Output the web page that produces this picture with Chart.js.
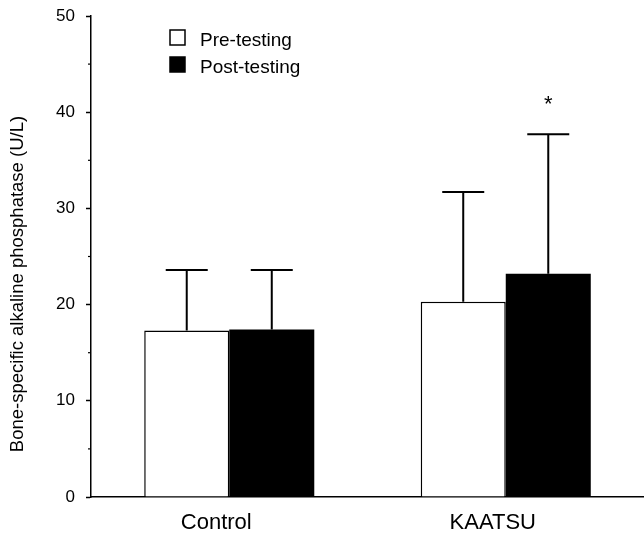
<!DOCTYPE html>
<html>
<head>
<meta charset="utf-8">
<script src="https://cdn.jsdelivr.net/npm/chart.js@4"></script>
<style>
  html, body { margin: 0; padding: 0; background: #fff; }
  #wrap { width: 644px; height: 533px; }
</style>
</head>
<body>
<div id="wrap"><canvas id="myChart"></canvas></div>
<script>
// data
const categories = ['Control', 'KAATSU'];
const preValues = [17.3, 20.3];
const postValues = [17.4, 23.2];
const preSD = [6.3, 11.4];
const postSD = [6.2, 14.5];
const yTicks = [0, 10, 20, 30, 40, 50];
const minorTicks = [5, 15, 25, 35, 45];
const starred = [[1, 1]]; // [dataset, index]

const FONT = '"Liberation Sans", Arial, Helvetica, sans-serif';

const errorBars = {
  id: 'errorBars',
  afterDatasetsDraw(chart) {
    const ctx = chart.ctx;
    const y = chart.scales.y;
    const sds = [preSD, postSD];
    ctx.save();
    ctx.strokeStyle = '#000';
    ctx.lineWidth = 2;
    chart.data.datasets.forEach((ds, i) => {
      const meta = chart.getDatasetMeta(i);
      meta.data.forEach((bar, j) => {
        const top = y.getPixelForValue(ds.data[j] + sds[i][j]);
        ctx.beginPath();
        ctx.moveTo(bar.x, bar.y);
        ctx.lineTo(bar.x, top);
        ctx.moveTo(bar.x - 21, top);
        ctx.lineTo(bar.x + 21, top);
        ctx.stroke();
      });
    });
    ctx.fillStyle = '#000';
    ctx.font = '22px ' + FONT;
    ctx.textAlign = 'center';
    ctx.textBaseline = 'middle';
    starred.forEach(([i, j]) => {
      const bar = chart.getDatasetMeta(i).data[j];
      const top = y.getPixelForValue(chart.data.datasets[i].data[j] + sds[i][j]);
      ctx.fillText('*', bar.x, top - 29);
    });
    ctx.restore();
  }
};

const extras = {
  id: 'extras',
  afterDraw(chart) {
    const ctx = chart.ctx;
    const y = chart.scales.y;
    const left = chart.chartArea.left;
    ctx.save();
    // minor ticks
    ctx.strokeStyle = '#000';
    ctx.lineWidth = 1.2;
    minorTicks.forEach(v => {
      const py = y.getPixelForValue(v);
      ctx.beginPath();
      ctx.moveTo(left - 3, py);
      ctx.lineTo(left, py);
      ctx.stroke();
    });
    // y title
    ctx.fillStyle = '#000';
    ctx.font = '18.5px ' + FONT;
    ctx.textAlign = 'center';
    ctx.textBaseline = 'middle';
    ctx.translate(18, 284);
    ctx.rotate(-Math.PI / 2);
    ctx.fillText('Bone-specific alkaline phosphatase (U/L)', 0, 0);
    ctx.restore();

    // legend
    ctx.save();
    ctx.font = '19px ' + FONT;
    ctx.textBaseline = 'middle';
    ctx.textAlign = 'left';
    chart.data.datasets.forEach((ds, i) => {
      const by = 30 + i * 27;
      ctx.fillStyle = ds.backgroundColor;
      ctx.fillRect(170, by, 15, 15);
      ctx.strokeStyle = '#000';
      ctx.lineWidth = 1.5;
      ctx.strokeRect(170, by, 15, 15);
      ctx.fillStyle = '#000';
      ctx.fillText(ds.label, 200, by + 11);
    });
    ctx.restore();
  }
};

const ctx = document.getElementById('myChart').getContext('2d');
const myChart = new Chart(ctx, {
  type: 'bar',
  data: {
    labels: categories,
    datasets: [{
      label: 'Pre-testing',
      data: preValues,
      backgroundColor: '#ffffff',
      borderColor: '#000000',
      borderWidth: 1.5
    }, {
      label: 'Post-testing',
      data: postValues,
      backgroundColor: '#000000',
      borderColor: '#000000',
      borderWidth: 0
    }]
  },
  options: {
    responsive: true,
    maintainAspectRatio: false,
    animation: false,
    events: [],
    layout: { padding: { top: 16, right: 0, left: 0, bottom: 0 } },
    datasets: { bar: { categoryPercentage: 0.615, barPercentage: 1.0 } },
    plugins: { legend: { display: false }, tooltip: { enabled: false } },
    scales: {
      x: {
        grid: { display: false },
        border: { color: '#000', width: 1.5 },
        ticks: {
          color: '#000',
          font: { family: FONT, size: 22 },
          padding: 5,
          labelOffset: -13
        },
        afterFit: s => { s.height = 36; s.paddingLeft = 0; s.paddingRight = 0; }
      },
      y: {
        min: 0,
        max: 50,
        afterBuildTicks: s => { s.ticks = yTicks.map(v => ({ value: v })); },
        grid: { drawOnChartArea: false, color: '#000', tickLength: 5, tickWidth: 1.5 },
        border: { color: '#000', width: 1.5 },
        ticks: {
          color: '#000',
          font: { family: FONT, size: 17 },
          padding: 11
        },
        afterFit: s => { s.width = 91; s.paddingTop = 0; s.paddingBottom = 0; }
      }
    }
  },
  plugins: [errorBars, extras]
});
</script>
</body>
</html>
